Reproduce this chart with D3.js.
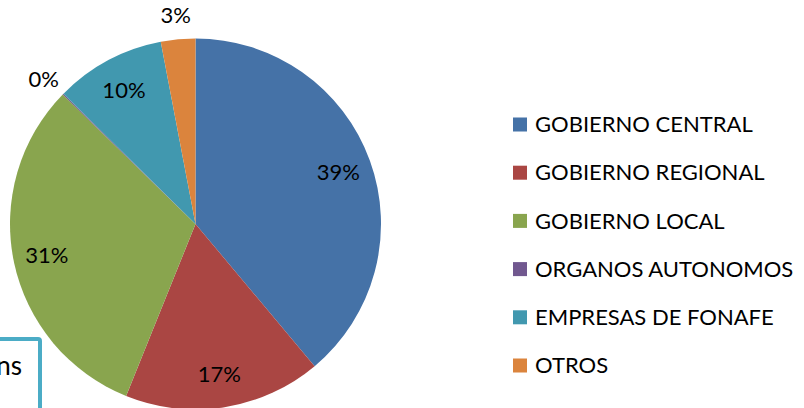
<!DOCTYPE html>
<html>
<head>
<meta charset="utf-8">
<script src="https://cdn.jsdelivr.net/npm/d3@7"></script>
<style>
body { margin: 0; background: #fff; }
svg { display: block; font-family: Lato, "Open Sans", sans-serif; }
</style>
</head>
<body>
<svg id="pie" width="804" height="408"></svg>
<script>
var categories = ["GOBIERNO CENTRAL", "GOBIERNO REGIONAL", "GOBIERNO LOCAL", "ORGANOS AUTONOMOS", "EMPRESAS DE FONAFE", "OTROS"];
var values = [38.9, 17.2, 31.2, 0.1, 9.6, 3.0];
var colors = ["#4572a7", "#aa4643", "#89a54e", "#71588f", "#4198af", "#db843d"];

var svg = d3.select("#pie"),
    radius = 185.5,
    g = svg.append("g").attr("transform", "translate(195.5,224)");

var pie = d3.pie().sort(null).value(function (d) { return d; });
var arcs = pie(values);

var path = d3.arc().outerRadius(radius).innerRadius(0);

g.selectAll(".arc")
    .data(arcs)
    .enter().append("path")
    .attr("class", "arc")
    .attr("d", path)
    .attr("fill", function (d, i) { return colors[i]; })
    .attr("stroke", "none");

// labels: inside for big slices, outside for small ones
g.selectAll(".lbl")
    .data(arcs)
    .enter().append("text")
    .attr("class", "lbl")
    .attr("text-anchor", "middle")
    .attr("dy", "0.35em")
    .attr("font-size", 22)
    .attr("fill", "#000")
    .attr("transform", function (d) {
        var pct = d.data;
        var r = pct < 5 ? 210 : 152;
        var a = (d.startAngle + d.endAngle) / 2;
        if (pct < 1) a = d.startAngle - 0.01;
        return "translate(" + (Math.sin(a) * r) + "," + (-Math.cos(a) * r) + ")";
    })
    .text(function (d) { return Math.round(d.data) + "%"; });

// legend
var legend = svg.append("g").attr("transform", "translate(513,124.5)");
var row = legend.selectAll(".leg")
    .data(categories)
    .enter().append("g")
    .attr("transform", function (d, i) { return "translate(0," + (i * 48.2) + ")"; });
row.append("rect")
    .attr("x", 0).attr("y", -7)
    .attr("width", 14).attr("height", 14)
    .attr("fill", function (d, i) { return colors[i]; });
row.append("text")
    .attr("x", 22)
    .attr("dy", "0.35em")
    .attr("font-size", 22)
    .text(function (d) { return d; });

// overlapping text box from the slide (bottom left)
svg.append("rect")
    .attr("x", -20).attr("y", 339)
    .attr("width", 60).attr("height", 90)
    .attr("rx", 2)
    .attr("fill", "#fff")
    .attr("stroke", "#4bacc6")
    .attr("stroke-width", 4);
svg.append("text")
    .attr("x", 22).attr("y", 375)
    .attr("text-anchor", "end")
    .attr("font-size", 26)
    .text("ns");
</script>
</body>
</html>
